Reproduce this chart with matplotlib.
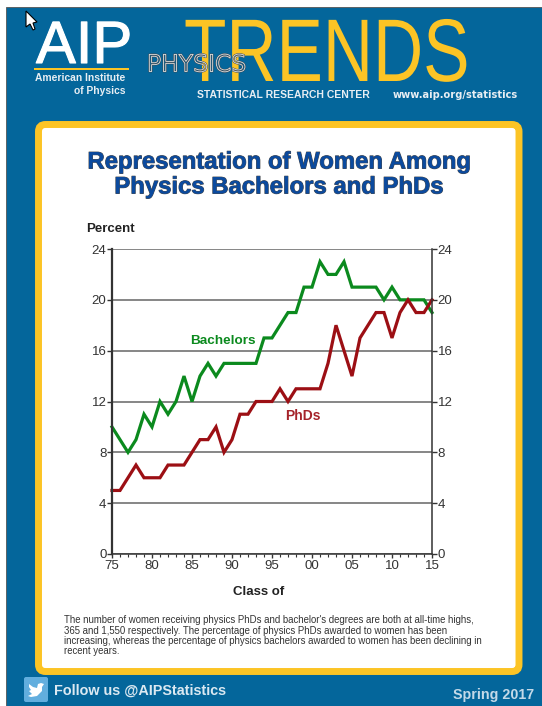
import matplotlib
matplotlib.use('Agg')
import matplotlib.pyplot as plt
import matplotlib.patheffects as pe
from matplotlib.patches import FancyBboxPatch, Rectangle, Polygon
from matplotlib.ticker import MultipleLocator
from matplotlib.transforms import Affine2D

years = list(range(1975, 2016))
bachelors = [10, 9, 8, 9, 11, 10, 12, 11, 12, 14, 12, 14, 15, 14, 15, 15, 15, 15, 15, 17, 17,
             18, 19, 19, 21, 21, 23, 22, 22, 23, 21, 21, 21, 21, 20, 21, 20, 20, 20, 20, 19]
phds = [5, 5, 6, 7, 6, 6, 6, 7, 7, 7, 8, 9, 9, 10, 8, 9, 11, 11, 12, 12, 12,
        13, 12, 13, 13, 13, 13, 15, 18, 16, 14, 17, 18, 19, 19, 17, 19, 20, 19, 19, 20]
y_ticks = [0, 4, 8, 12, 16, 20, 24]
x_ticks = [1975, 1980, 1985, 1990, 1995, 2000, 2005, 2010, 2015]
x_labels = ['75', '80', '85', '90', '95', '00', '05', '10', '15']

W, H = 542, 706
BLUE = '#04669b'
GOLD = '#fcc425'
GREEN = '#0b8a1e'
RED = '#9c0f14'

plt.rcParams['font.family'] = ['Liberation Sans', 'DejaVu Sans']


# stretches text upward from its baseline, no narrow font is installed for the logo
class StretchY(pe.AbstractPathEffect):
    def __init__(self, base, factor):
        super().__init__()
        self.base = base
        self.factor = factor

    def draw_path(self, renderer, gc, tpath, affine, rgbFace=None):
        stretch = Affine2D().translate(0, -self.base).scale(1, self.factor).translate(0, self.base)
        renderer.draw_path(gc, tpath, affine + stretch, rgbFace)


fig = plt.figure(figsize=(W / 100, H / 100), dpi=100, facecolor='white')

# page background in pixel coordinates
bg = fig.add_axes([0, 0, 1, 1])
bg.set_xlim(0, W)
bg.set_ylim(H, 0)
bg.axis('off')
bg.add_patch(Rectangle((5.5, 6.5), W, H, fc=BLUE, ec='#555555', lw=0.6))
bg.add_patch(FancyBboxPatch((38.5, 124.5), 480.5, 547, boxstyle='round,pad=0,rounding_size=7',
                            fc='white', ec=GOLD, lw=5))

# mouse pointer left in the screenshot
bg.add_patch(Polygon([(26, 11), (26, 27), (30, 24), (33, 30), (35, 29), (33, 23), (37, 22)],
                     fc='white', ec='black', lw=0.8))

# header
bg.text(36, 63, 'AIP', color='white', fontsize=43, va='baseline', ha='left',
        path_effects=[pe.withStroke(linewidth=0.8, foreground='white')])
bg.add_patch(Rectangle((33.5, 67.5), 95, 2.5, color=GOLD, lw=0))
bg.text(125, 78, 'American Institute', color='#e8eef3', fontsize=7.4, ha='right', va='center', weight='bold')
bg.text(125, 91, 'of Physics', color='#e8eef3', fontsize=7.4, ha='right', va='center', weight='bold')
bg.text(184, 81, 'TRENDS', color=GOLD, fontsize=50, va='baseline', ha='left',
        path_effects=[StretchY(H - 81, 64 / 50)])
bg.text(147, 65, 'PHYSICS', color='none', fontsize=16.9, va='center', ha='left', family='DejaVu Sans',
        path_effects=[pe.Stroke(linewidth=1.3, foreground='#3c4a55'), pe.Stroke(linewidth=0.6, foreground='#e2e2e2')])
bg.text(197, 95, 'STATISTICAL RESEARCH CENTER', color='#e8eef3', fontsize=7.45, weight='bold', va='center')
bg.text(393, 95, 'www.aip.org/statistics', color='#e8eef3', fontsize=7.1, weight='bold', va='center', family='DejaVu Sans')

# title
for i, line in enumerate(['Representation of Women Among', 'Physics Bachelors and PhDs']):
    bg.text(279, 162 + 25 * i, line, color='#0b4a9e', fontsize=17.2, weight='bold', ha='center', va='center',
            path_effects=[pe.withStroke(linewidth=0.7, foreground='#4a4a4a')])

bg.text(86, 229, 'Percent', fontsize=9.5, weight='bold', color='#222222', va='center')
bg.text(259, 592, 'Class of', fontsize=9.5, weight='bold', color='#222222', ha='center', va='center')

# note under the chart
note = ["The number of women receiving physics PhDs and bachelor's degrees are both at all-time highs,",
        '365 and 1,550 respectively. The percentage of physics PhDs awarded to women has been',
        'increasing, whereas the percentage of physics bachelors awarded to women has been declining in',
        'recent years.']
for i, line in enumerate(note):
    bg.text(64, 620 + 10.5 * i, line, fontsize=6.95, color='#333333', va='center')

# footer
bg.add_patch(FancyBboxPatch((24, 677), 24, 25, boxstyle='round,pad=0,rounding_size=2', fc='#62aede', ec='none'))
bg.add_patch(Polygon([(29, 684), (33, 687), (37, 688), (38, 684), (41, 683), (44, 684), (42, 687), (42, 691),
                      (37, 696), (31, 697), (28, 696), (32, 694), (29, 691), (31, 690), (29, 687)],
                     fc='white', ec='none'))
bg.text(54, 691, 'Follow us @AIPStatistics', color='#dbe9f2', fontsize=10.4, weight='bold', va='center')
bg.text(534, 695, 'Spring 2017', color='#c3d9e8', fontsize=10.3, weight='bold', va='center', ha='right')

# chart
ax = fig.add_axes([112 / W, 1 - 554 / H, 320 / W, 305 / H])
ax.set_xlim(1975, 2015)
ax.set_ylim(0, 24)
ax.patch.set_alpha(0)
ax.set_yticks(y_ticks)
ax.set_xticks(x_ticks)
ax.set_xticklabels(x_labels)
ax.xaxis.set_minor_locator(MultipleLocator(1))
ax.tick_params(axis='y', length=3.5, width=1, labelsize=9.5, colors='#333333', left=True, right=True,
               labelleft=True, labelright=True, pad=0.5)
ax.tick_params(axis='x', which='major', length=3, width=1, labelsize=9.5, colors='#333333', pad=1)
ax.tick_params(axis='x', which='minor', length=2, width=0.8, colors='#333333')
ax.grid(axis='y', color='#666666', lw=1.1)
ax.set_axisbelow(True)
for s in ax.spines.values():
    s.set_color('#333333')
    s.set_linewidth(1.1)
ax.spines['left'].set_linewidth(1.6)
ax.spines['top'].set_visible(False)
ax.plot(years, bachelors, color=GREEN, lw=2.3, solid_joinstyle='miter', clip_on=False)
ax.plot(years, phds, color=RED, lw=2.3, solid_joinstyle='miter', clip_on=False)
bg.text(223, 341, 'Bachelors', color=GREEN, fontsize=9.7, weight='bold', ha='center', va='center')
bg.text(303, 415.5, 'PhDs', color='#a5232a', fontsize=10, weight='bold', ha='center', va='center')

fig.savefig('out.png', dpi=100)
